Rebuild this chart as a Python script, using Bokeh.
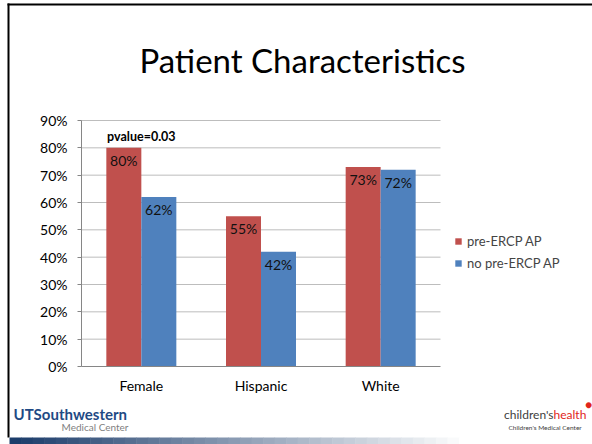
from bokeh.plotting import figure
from bokeh.models import (Range1d, FixedTicker, NumeralTickFormatter, Legend, LegendItem,
                          Label, BoxAnnotation, ColumnDataSource)
from bokeh.core.properties import value
from bokeh.embed import file_html
from bokeh.resources import INLINE

categories = ["Female", "Hispanic", "White"]
pre_ercp = [0.80, 0.55, 0.73]
no_pre_ercp = [0.62, 0.42, 0.72]
pre_labels = ["80%", "55%", "73%"]
no_pre_labels = ["62%", "42%", "72%"]
y_ticks = [0.0, 0.1, 0.2, 0.3, 0.4, 0.5, 0.6, 0.7, 0.8, 0.9]
series_names = ["pre-ERCP AP", "no pre-ERCP AP"]
title_text = "Patient Characteristics"
pvalue_text = "pvalue=0.03"
pvalue_y = 0.842

RED = "#C0504D"
BLUE = "#4F81BD"
FONT = "Lato"

W, H = 592, 444
FL, FR, FT, FB = 81, 440, 120, 366      # chart area edges in canvas pixels
ncat = len(categories)
px_per_cat = (FR - FL) / ncat
y_top = y_ticks[-1]
px_per_unit = (FB - FT) / y_top

pos = [i + 0.5 for i in range(ncat)]
bw = 35 / px_per_cat

src = ColumnDataSource(dict(
    xr=[c - bw / 2 for c in pos], xb=[c + bw / 2 for c in pos],
    pre=pre_ercp, nopre=no_pre_ercp, prel=pre_labels, noprel=no_pre_labels))

x_range = Range1d(-FL / px_per_cat, ncat + (W - FR) / px_per_cat)
y_range = Range1d(-(H - FB) / px_per_unit, y_top + FT / px_per_unit)

p = figure(width=W, height=H, x_range=x_range, y_range=y_range, output_backend="svg",
           toolbar_location=None, min_border=0)
p.outline_line_color = None
p.background_fill_color = "white"
p.border_fill_color = "white"
p.xgrid.visible = False
p.ygrid.visible = False

# gridlines (within the chart area only)
gy = [t for t in y_ticks if t > 0]
p.segment(x0=[0] * len(gy), x1=[ncat] * len(gy), y0=gy, y1=gy, line_color="#BDBDBD", line_width=1)

r1 = p.vbar(x="xr", top="pre", width=bw, source=src, fill_color=RED, line_color=None)
r2 = p.vbar(x="xb", top="nopre", width=bw, source=src, fill_color=BLUE, line_color=None)

p.text(x="xr", y="pre", text="prel", source=src, text_align="center", text_baseline="top",
       y_offset=4, text_font=value(FONT), text_font_size="14px", text_color="#111111")
p.text(x="xb", y="nopre", text="noprel", source=src, text_align="center", text_baseline="top",
       y_offset=4, text_font=value(FONT), text_font_size="14px", text_color="#111111")

p.text(x=[pos[0]], y=[pvalue_y], text=[pvalue_text], text_align="center", text_baseline="middle",
       text_font=value(FONT), text_font_size="12.5px", text_font_style="bold", text_color="#000000")

# axes drawn at fixed locations inside the canvas
p.yaxis.fixed_location = 0
p.yaxis.bounds = (0, y_top)
p.yaxis.ticker = FixedTicker(ticks=y_ticks)
p.yaxis.formatter = NumeralTickFormatter(format="0%")
p.yaxis.major_label_text_font = FONT
p.yaxis.major_label_text_font_size = "14px"
p.yaxis.major_label_text_color = "#000000"
p.yaxis.axis_line_color = "#868686"
p.yaxis.major_tick_line_color = "#868686"
p.yaxis.major_tick_out = 4
p.yaxis.major_tick_in = 0
p.yaxis.minor_tick_line_color = None
p.yaxis.major_label_standoff = 10

p.xaxis.fixed_location = 0
p.xaxis.bounds = (0, ncat)
p.xaxis.ticker = FixedTicker(ticks=pos)
p.xaxis.major_label_overrides = {x: c for x, c in zip(pos, categories)}
p.xaxis.major_label_text_font = FONT
p.xaxis.major_label_text_font_size = "14px"
p.xaxis.major_label_text_color = "#000000"
p.xaxis.axis_line_color = "#868686"
p.xaxis.major_tick_line_color = None
p.xaxis.major_tick_out = 0
p.xaxis.major_tick_in = 0
p.xaxis.minor_tick_line_color = None
p.xaxis.major_label_standoff = 10

legend = Legend(items=[LegendItem(label=series_names[0], renderers=[r1]),
                       LegendItem(label=series_names[1], renderers=[r2])],
                location=(454, H - 271))
legend.border_line_color = None
legend.background_fill_alpha = 0
legend.label_text_font = FONT
legend.label_text_font_size = "13px"
legend.glyph_width = 8
legend.glyph_height = 8
legend.spacing = 6
legend.padding = 0
legend.margin = 0
legend.label_standoff = 5
p.add_layout(legend, "center")


def add_label(text, cx, cy, size, color="#000000", align="left", style="normal", baseline="middle"):
    p.add_layout(Label(x=cx, y=H - cy, x_units="screen", y_units="screen", text=text,
                       text_font=FONT, text_font_size=size, text_color=color,
                       text_align=align, text_baseline=baseline, text_font_style=style))


add_label(title_text, 302, 59, "33px", align="center")
add_label("UTSouthwestern", 13, 413, "15px", color="#1F4A84", style="bold")
add_label("Medical Center", 128, 426, "10px", color="#7F7F7F", align="right")
add_label("children's", 553, 414, "12px", color="#404040", align="right")
add_label("health", 553, 414, "12px", color="#E1251B", align="left")
add_label("Children's Medical Center", 508, 427, "6.5px", color="#404040")
add_label("●", 588, 404, "12px", color="#E1251B", align="center")


def box(l, r, t, b, color):
    p.add_layout(BoxAnnotation(left=l, right=r, top=H - t, bottom=H - b,
                               left_units="screen", right_units="screen", top_units="screen",
                               bottom_units="screen", fill_color=color, fill_alpha=1,
                               line_color=None, level="overlay"))


# slide border lines
box(7, W, 3, 5, "black")
box(7, 9, 3, 437, "black")

# gradient footer bar
n = 40
x0, x1 = 9, 470
c0 = (0x1C, 0x3D, 0x6B)
c1 = (0xFF, 0xFF, 0xFF)
for i in range(n):
    t = i / (n - 1)
    c = tuple(int(c0[k] + (c1[k] - c0[k]) * t) for k in range(3))
    box(x0 + (x1 - x0) * i / n, x0 + (x1 - x0) * (i + 1) / n + 0.5, 437, 444, "#%02x%02x%02x" % c)

open("out.html", "w").write(file_html(p, INLINE))
